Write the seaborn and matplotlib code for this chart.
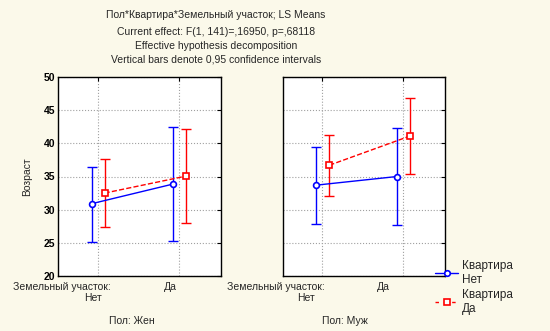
import matplotlib
matplotlib.use("Agg")
import matplotlib.pyplot as plt
import seaborn as sns
import pandas as pd
import numpy as np

sns.set_style("white")
plt.rcParams['font.family'] = ['Liberation Sans', 'DejaVu Sans']

# Data
land = ["Нет", "Да"]             # Земельный участок
sex_panels = ["Жен", "Муж"]       # Пол
flat = ["Нет", "Да"]             # Квартира

mean_zhen_net = [30.9, 33.85]
mean_zhen_da = [32.5, 35.05]
mean_muzh_net = [33.7, 35.0]
mean_muzh_da = [36.7, 41.1]

low_zhen_net = [25.2, 25.3]
up_zhen_net = [36.4, 42.4]
low_zhen_da = [27.4, 28.0]
up_zhen_da = [37.7, 42.1]
low_muzh_net = [27.8, 27.7]
up_muzh_net = [39.5, 42.3]
low_muzh_da = [32.0, 35.4]
up_muzh_da = [41.2, 46.8]

yticks = [20, 25, 30, 35, 40, 45, 50]

W, H = 550, 331
fig = plt.figure(figsize=(W / 100, H / 100), dpi=100)
fig.patch.set_facecolor("#fbf9ea")

def px(x0, y0, x1, y1):
    return [x0 / W, 1 - y1 / H, (x1 - x0) / W, (y1 - y0) / H]

axes = [fig.add_axes(px(58, 77, 221, 276)), fig.add_axes(px(283, 77, 445, 276))]

panel_data = [
    (mean_zhen_net, low_zhen_net, up_zhen_net, mean_zhen_da, low_zhen_da, up_zhen_da),
    (mean_muzh_net, low_muzh_net, up_muzh_net, mean_muzh_da, low_muzh_da, up_muzh_da),
]
styles = {
    "Нет": dict(color="#0000ff", marker="o", ls="-", off=-0.075),
    "Да": dict(color="#ff0000", marker="s", ls="--", off=0.085),
}

for ax, pdat in zip(axes, panel_data):
    ax.set_facecolor("white")
    groups = [("Нет", pdat[0], pdat[1], pdat[2]), ("Да", pdat[3], pdat[4], pdat[5])]
    for fl, m, lo, up in groups:
        st = styles[fl]
        xs = np.arange(len(land)) + st["off"]
        df = pd.DataFrame({"x": xs, "y": m})
        sns.lineplot(data=df, x="x", y="y", ax=ax, color=st["color"], linestyle=st["ls"],
                     marker=st["marker"], markersize=4.2, markerfacecolor="white",
                     markeredgecolor=st["color"], markeredgewidth=1.2, linewidth=1,
                     dashes=(3, 3) if st["ls"] == "--" else None, legend=False, zorder=3)
        m = np.array(m); lo = np.array(lo); up = np.array(up)
        ax.errorbar(xs, m, yerr=[m - lo, up - m], fmt="none", ecolor=st["color"],
                    elinewidth=1, capsize=3.6, capthick=1, zorder=2)
    ax.set_xlim(-0.49, 1.52)
    ax.set_ylim(20, 50)
    ax.set_yticks(yticks)
    ax.set_xticks([0, 1])
    ax.set_xticklabels(["", ""])
    ax.grid(True, color="#a0a0a0", linestyle=":", linewidth=0.8)
    ax.tick_params(direction="in", length=3, top=True, right=True, width=0.8,
                   labelsize=7.5, pad=2, colors="black")
    ax.set_xlabel("")
    ax.set_ylabel("")
    for s in ax.spines.values():
        s.set_color("black")
        s.set_linewidth(1)

axes[1].set_yticklabels([])
axes[0].set_ylabel("Возраст", fontsize=7.5, labelpad=8)
for lbl in axes[0].get_yticklabels():
    lbl.set_fontweight("bold")

def ft(x, y, s, **kw):
    fig.text(x / W, 1 - y / H, s, fontsize=7.5, va="center", **kw)

for x0, xn, xd in [(13, 93, 170), (227, 306, 383)]:
    ft(x0, 287, "Земельный участок:", ha="left")
    ft(xd, 287, land[1], ha="center")
    ft(xn, 298, land[0], ha="center")
ft(132, 321, "Пол: " + sex_panels[0], ha="center")
ft(345, 321, "Пол: " + sex_panels[1], ha="center")

titles = ["Пол*Квартира*Земельный участок; LS Means",
          "Current effect: F(1, 141)=,16950, p=,68118",
          "Effective hypothesis decomposition",
          "Vertical bars denote 0,95 confidence intervals"]
for t, y in zip(titles, [15, 32, 46, 60]):
    ft(216, y, t, ha="center")

# legend
from matplotlib.lines import Line2D
h1 = Line2D([], [], color="#0000ff", marker="o", ls="-", markersize=4,
            markerfacecolor="white", markeredgewidth=1.2, linewidth=1)
h2 = Line2D([], [], color="#ff0000", marker="s", ls="--", dashes=(2.5, 3.5), markersize=4,
            markerfacecolor="white", markeredgewidth=1.2, linewidth=1)
fig.legend([h1, h2], ["Квартира\n" + flat[0], "Квартира\n" + flat[1]], loc="upper left",
           bbox_to_anchor=(430 / W, 1 - 255 / H), frameon=False, fontsize=8.5,
           handlelength=2.0, handletextpad=0.3, labelspacing=0.3, borderaxespad=0)

fig.savefig("out.png", dpi=100, facecolor=fig.get_facecolor())
